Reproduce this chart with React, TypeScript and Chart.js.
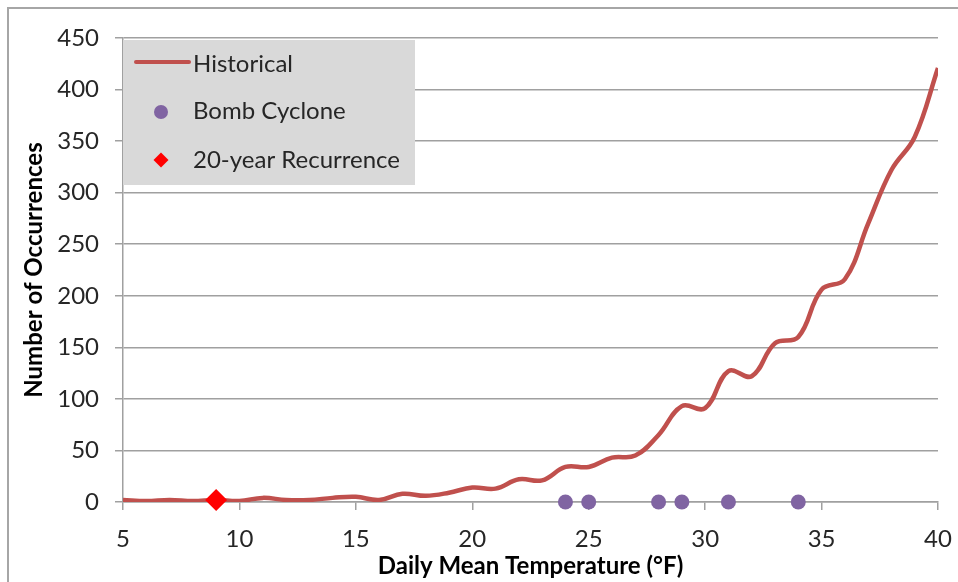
import React, { useEffect, useRef } from "react";
import { Chart, registerables } from "chart.js";

Chart.register(...registerables);

const temperatures = [5, 6, 7, 8, 9, 10, 11, 12, 13, 14, 15, 16, 17, 18, 19, 20, 21, 22, 23, 24, 25, 26, 27, 28, 29, 30, 31, 32, 33, 34, 35, 36, 37, 38, 39, 40];
const historical = [2, 1, 2, 1, 2, 1, 4, 2, 2, 4, 5, 2, 8, 6, 9, 14, 13, 22, 21, 34, 34, 43, 45, 65, 93, 91, 127, 122, 154, 160, 206, 216, 270, 322, 354, 421];
const bombTemps = [24, 25, 28, 29, 31, 34];
const bombValues = [0, 0, 0, 0, 0, 0];
const recurrenceTemps = [9];
const recurrenceValues = [2];
const legendLabels = ["Historical", "Bomb Cyclone", "20-year Recurrence"];

const FONT = "Lato, 'Open Sans', sans-serif";
const RED = "#c0504d";
const PURPLE = "#8064a2";
const DIAMOND = "#ff0000";
const GRID = "#a0a0a0";
const TEXT = "#262626";

const legendPlugin = {
  id: "customLegend",
  beforeDatasetsDraw(chart: any) {
    const ctx = chart.ctx;
    const ca = chart.chartArea;
    const x0 = ca.left;
    const y0 = ca.top + 2;
    ctx.save();
    ctx.fillStyle = "#d9d9d9";
    ctx.fillRect(x0, y0, 292, 145);
    ctx.font = `24px ${FONT}`;
    ctx.fillStyle = TEXT;
    ctx.textAlign = "left";
    ctx.textBaseline = "alphabetic";
    const rows = [y0 + 32, y0 + 79, y0 + 128];
    ctx.strokeStyle = RED;
    ctx.lineWidth = 4;
    ctx.lineCap = "round";
    ctx.beginPath();
    ctx.moveTo(x0 + 13, y0 + 22);
    ctx.lineTo(x0 + 66, y0 + 22);
    ctx.stroke();
    ctx.fillText(legendLabels[0], x0 + 70, rows[0]);
    ctx.fillStyle = PURPLE;
    ctx.beginPath();
    ctx.arc(x0 + 38, y0 + 72, 7, 0, Math.PI * 2);
    ctx.fill();
    ctx.fillStyle = TEXT;
    ctx.fillText(legendLabels[1], x0 + 70, rows[1]);
    ctx.fillStyle = DIAMOND;
    const dx = x0 + 38, dy = y0 + 120, r = 7.5;
    ctx.beginPath();
    ctx.moveTo(dx - r, dy);
    ctx.lineTo(dx, dy - r);
    ctx.lineTo(dx + r, dy);
    ctx.lineTo(dx, dy + r);
    ctx.closePath();
    ctx.fill();
    ctx.fillStyle = TEXT;
    ctx.fillText(legendLabels[2], x0 + 70, rows[2]);
    ctx.restore();
  },
};

const borderPlugin = {
  id: "outerBorder",
  afterDraw(chart: any) {
    const ctx = chart.ctx;
    ctx.save();
    ctx.strokeStyle = "#a6a6a6";
    ctx.lineWidth = 2;
    ctx.strokeRect(8, 8, 2000, 2000);
    ctx.restore();
  },
};

export default function App() {
  const ref = useRef<HTMLCanvasElement | null>(null);
  useEffect(() => {
    if (!ref.current) return;
    const chart = new Chart(ref.current, {
      type: "line",
      data: {
        datasets: [
          {
            label: legendLabels[2],
            data: recurrenceTemps.map((t, i) => ({ x: t, y: recurrenceValues[i] })),
            showLine: false,
            pointStyle: "rectRot",
            pointRadius: 11,
            backgroundColor: DIAMOND,
            borderColor: DIAMOND,
            borderWidth: 0,
            clip: false as any,
          },
          {
            label: legendLabels[1],
            data: bombTemps.map((t, i) => ({ x: t, y: bombValues[i] })),
            showLine: false,
            pointStyle: "circle",
            pointRadius: 7.5,
            backgroundColor: PURPLE,
            borderColor: PURPLE,
            borderWidth: 0,
            clip: false as any,
          },
          {
            label: legendLabels[0],
            data: temperatures.map((t, i) => ({ x: t, y: historical[i] })),
            borderColor: RED,
            borderWidth: 4.5,
            pointRadius: 0,
            tension: 0.4,
            fill: false,
          },
        ],
      },
      options: {
        animation: false,
        responsive: false,
        maintainAspectRatio: false,
        layout: { padding: { top: 38, right: 20, left: 0, bottom: 0 } },
        plugins: {
          legend: { display: false },
          tooltip: { enabled: false },
        },
        scales: {
          x: {
            type: "linear",
            min: 5,
            max: 40,
            afterFit(scale: any) {
              scale.height = 80;
              scale.paddingRight = 0;
              scale.paddingLeft = 0;
            },
            ticks: {
              stepSize: 5,
              padding: 15,
              color: TEXT,
              font: { family: FONT, size: 24 },
              maxRotation: 0,
            },
            grid: {
              drawOnChartArea: false,
              drawTicks: true,
              tickLength: 8,
              color: GRID,
              lineWidth: 1.5,
            },
            border: { display: true, color: GRID, width: 1.5 },
            title: {
              display: true,
              text: "Daily Mean Temperature (°F)",
              color: "#000",
              font: { family: FONT, size: 24, weight: "bold", lineHeight: 1.2 },
              padding: { top: 0, bottom: 1 },
            },
          },
          y: {
            type: "linear",
            min: 0,
            max: 450,
            afterFit(scale: any) {
              scale.width = 123;
            },
            ticks: {
              stepSize: 50,
              padding: 16,
              color: TEXT,
              font: { family: FONT, size: 24 },
            },
            grid: {
              drawTicks: true,
              tickLength: 8,
              color: GRID,
              lineWidth: 1.5,
            },
            border: { display: true, color: GRID, width: 1.5 },
            title: {
              display: true,
              text: "Number of Occurrences",
              color: "#000",
              font: { family: FONT, size: 24, weight: "bold", lineHeight: 1.2 },
              padding: { top: 20, bottom: 0 },
            },
          },
        },
      },
      plugins: [legendPlugin, borderPlugin],
    });
    return () => chart.destroy();
  }, []);
  return (
    <div style={{ position: "fixed", left: 0, top: 0, width: 958, height: 582, background: "#fff" }}>
      <canvas ref={ref} width={958} height={582} style={{ display: "block", width: 958, height: 582 }} />
    </div>
  );
}
